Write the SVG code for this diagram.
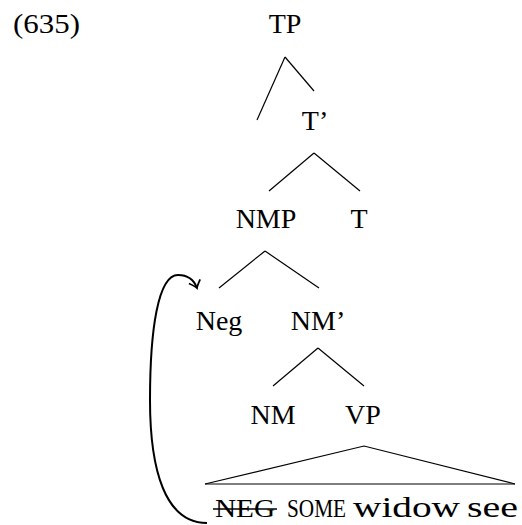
<svg xmlns="http://www.w3.org/2000/svg" width="522" height="525" viewBox="0 0 522 525">
<style>
text{font-family:'Liberation Serif','DejaVu Serif',serif;font-size:28px;fill:#000}
.n{text-anchor:middle}
.sc{font-size:25px}
.b{font-size:30px}
line,polyline,path{stroke:#000;stroke-width:1.2;fill:none}
.arc{stroke-width:2}
</style>
<defs>
<marker id="ah" viewBox="-10 -8 12 16" markerWidth="12" markerHeight="16" refX="0" refY="0" orient="auto" markerUnits="userSpaceOnUse">
<path d="M -7 -6 Q -2 -1 0 0 Q -2 1 -7 6" style="stroke:#000;stroke-width:1.8;fill:none"/>
</marker>
</defs>
<rect width="522" height="525" fill="#fff"/>
<text x="13" y="33" textLength="67" lengthAdjust="spacingAndGlyphs">(635)</text>
<g id="TP"><text class="n" x="285" y="33">TP</text></g>
<g id="Tbar"><text class="n" x="315" y="130">T’</text></g>
<g id="NMP"><text class="n" x="266" y="228">NMP</text></g>
<g id="T"><text class="n" x="359" y="228">T</text></g>
<g id="Neg"><text class="n" x="219" y="330">Neg</text></g>
<g id="NMbar"><text class="n" x="318" y="330">NM’</text></g>
<g id="NM"><text class="n" x="273" y="424">NM</text></g>
<g id="VP"><text class="n" x="363" y="424">VP</text></g>
<g id="terminal">
<text class="sc" x="215" y="517" textLength="60" lengthAdjust="spacingAndGlyphs">NEG</text>
<text class="sc" x="287" y="517" textLength="59" lengthAdjust="spacingAndGlyphs">SOME</text>
<text class="b" x="353" y="517" textLength="107" lengthAdjust="spacingAndGlyphs">widow</text>
<text class="b" x="467" y="517" textLength="51" lengthAdjust="spacingAndGlyphs">see</text>
<line x1="213" y1="509" x2="277" y2="509" style="stroke-width:1.3"/>
</g>
<g id="connectors">
<line x1="285" y1="57" x2="257" y2="120"/>
<line x1="285" y1="57" x2="314" y2="91"/>
<line x1="314" y1="153" x2="269" y2="191"/>
<line x1="314" y1="153" x2="360" y2="191"/>
<line x1="265" y1="251" x2="219" y2="288"/>
<line x1="265" y1="251" x2="319" y2="288"/>
<line x1="318" y1="348" x2="273" y2="386"/>
<line x1="318" y1="348" x2="364" y2="386"/>
<polyline points="205,484 364,446 515,484"/>
<line x1="205" y1="484" x2="515" y2="484"/>
<path class="arc" d="M 207 523 C 165 523 150 470 150 400 C 150 330 158 275 178 275 C 188 275 194 280 197 288" marker-end="url(#ah)"/>
</g>
</svg>
